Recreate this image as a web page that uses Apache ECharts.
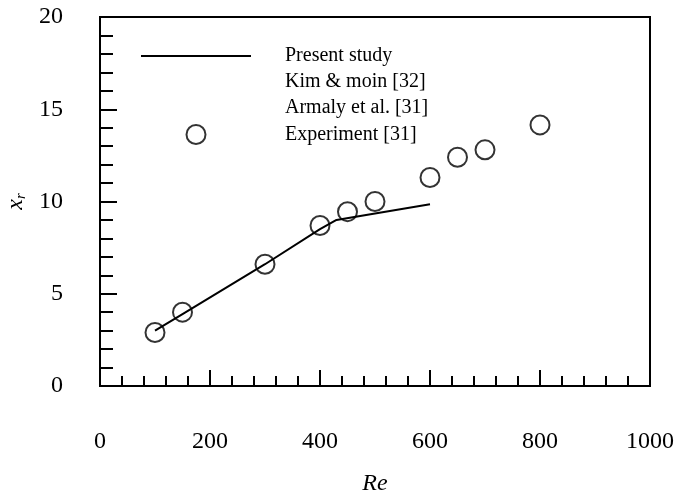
<!DOCTYPE html>
<html>
<head>
<meta charset="utf-8">
<script src="https://cdn.jsdelivr.net/npm/echarts@6/dist/echarts.min.js"></script>
<style>
  html, body { margin: 0; padding: 0; background: #fff; }
  #chart { width: 674px; height: 494px; }
</style>
</head>
<body>
<div id="chart"></div>
<script>
// present study curve (Re, x_r)
const lineRe = [100, 150, 300, 400, 430, 500, 600];
const lineXr = [3.0, 3.9, 6.6, 8.5, 9.0, 9.35, 9.85];

// experiment [31]
const expRe = [100, 150, 300, 400, 450, 500, 600, 650, 700, 800];
const expXr = [2.9, 4.0, 6.6, 8.7, 9.45, 10.0, 11.3, 12.4, 12.8, 14.15];

const legendNames = ["Present study", "Kim & moin [32]", "Armaly et al. [31]", "Experiment [31]"];

const serif = "Liberation Serif";

const chart = echarts.init(document.getElementById("chart"));

const option = {
  animation: false,
  backgroundColor: "#fff",
  grid: {
    left: 100, right: 24, top: 17, bottom: 108,
    outerBoundsMode: "none",
    show: true, borderColor: "#000", borderWidth: 2
  },
  legend: {
    orient: "vertical",
    left: 135,
    top: 41,
    itemWidth: 110,
    itemHeight: 19,
    itemGap: 6,
    selectedMode: false,
    data: [
      { name: legendNames[0], itemStyle: { opacity: 0 } },
      legendNames[1],
      legendNames[2],
      legendNames[3]
    ],
    textStyle: { fontFamily: serif, fontSize: 20, color: "#000", padding: [0, 0, 0, 29] }
  },
  xAxis: {
    type: "value",
    min: 0, max: 1000, interval: 200,
    name: "Re",
    nameLocation: "middle",
    nameGap: 86,
    nameTextStyle: { fontFamily: serif, fontStyle: "italic", fontSize: 24, color: "#000" },
    axisLine: { lineStyle: { color: "#000", width: 2 } },
    axisTick: { inside: true, length: 16, lineStyle: { color: "#000", width: 2 } },
    minorTick: { show: true, splitNumber: 5, length: 10, lineStyle: { color: "#000", width: 2 } },
    splitLine: { show: false },
    axisLabel: { margin: 44, fontFamily: serif, fontSize: 24, color: "#000", formatter: v => String(v) }
  },
  yAxis: {
    type: "value",
    min: 0, max: 20, interval: 5,
    name: "{a|x}{b|r}",
    nameLocation: "middle",
    nameRotate: 90,
    nameGap: 67,
    nameTextStyle: {
      rich: {
        a: { fontFamily: serif, fontStyle: "italic", fontSize: 24, color: "#000" },
        b: { fontFamily: serif, fontStyle: "italic", fontSize: 15, color: "#000", verticalAlign: "bottom", padding: [10, 0, 0, 0] }
      }
    },
    axisLine: { lineStyle: { color: "#000", width: 2 } },
    axisTick: { inside: true, length: 17, lineStyle: { color: "#000", width: 2 } },
    minorTick: { show: true, splitNumber: 5, length: 13, lineStyle: { color: "#000", width: 2 } },
    splitLine: { show: false },
    axisLabel: { margin: 37, fontFamily: serif, fontSize: 24, color: "#000" }
  },
  series: [
    {
      name: legendNames[0],
      type: "line",
      symbol: "none",
      lineStyle: { color: "#000", width: 2 },
      itemStyle: { color: "#000" },
      data: lineRe.map((x, i) => [x, lineXr[i]])
    },
    {
      name: legendNames[1],
      type: "scatter",
      itemStyle: { color: "rgba(0,0,0,0)", borderWidth: 0 },
      data: []
    },
    {
      name: legendNames[2],
      type: "scatter",
      itemStyle: { color: "rgba(0,0,0,0)", borderWidth: 0 },
      data: []
    },
    {
      name: legendNames[3],
      type: "scatter",
      symbol: "circle",
      symbolSize: 19,
      itemStyle: { color: "rgba(0,0,0,0)", borderColor: "#000", borderWidth: 2 },
      data: expRe.map((x, i) => [x, expXr[i]])
    }
  ]
};

chart.setOption(option);
</script>
</body>
</html>
